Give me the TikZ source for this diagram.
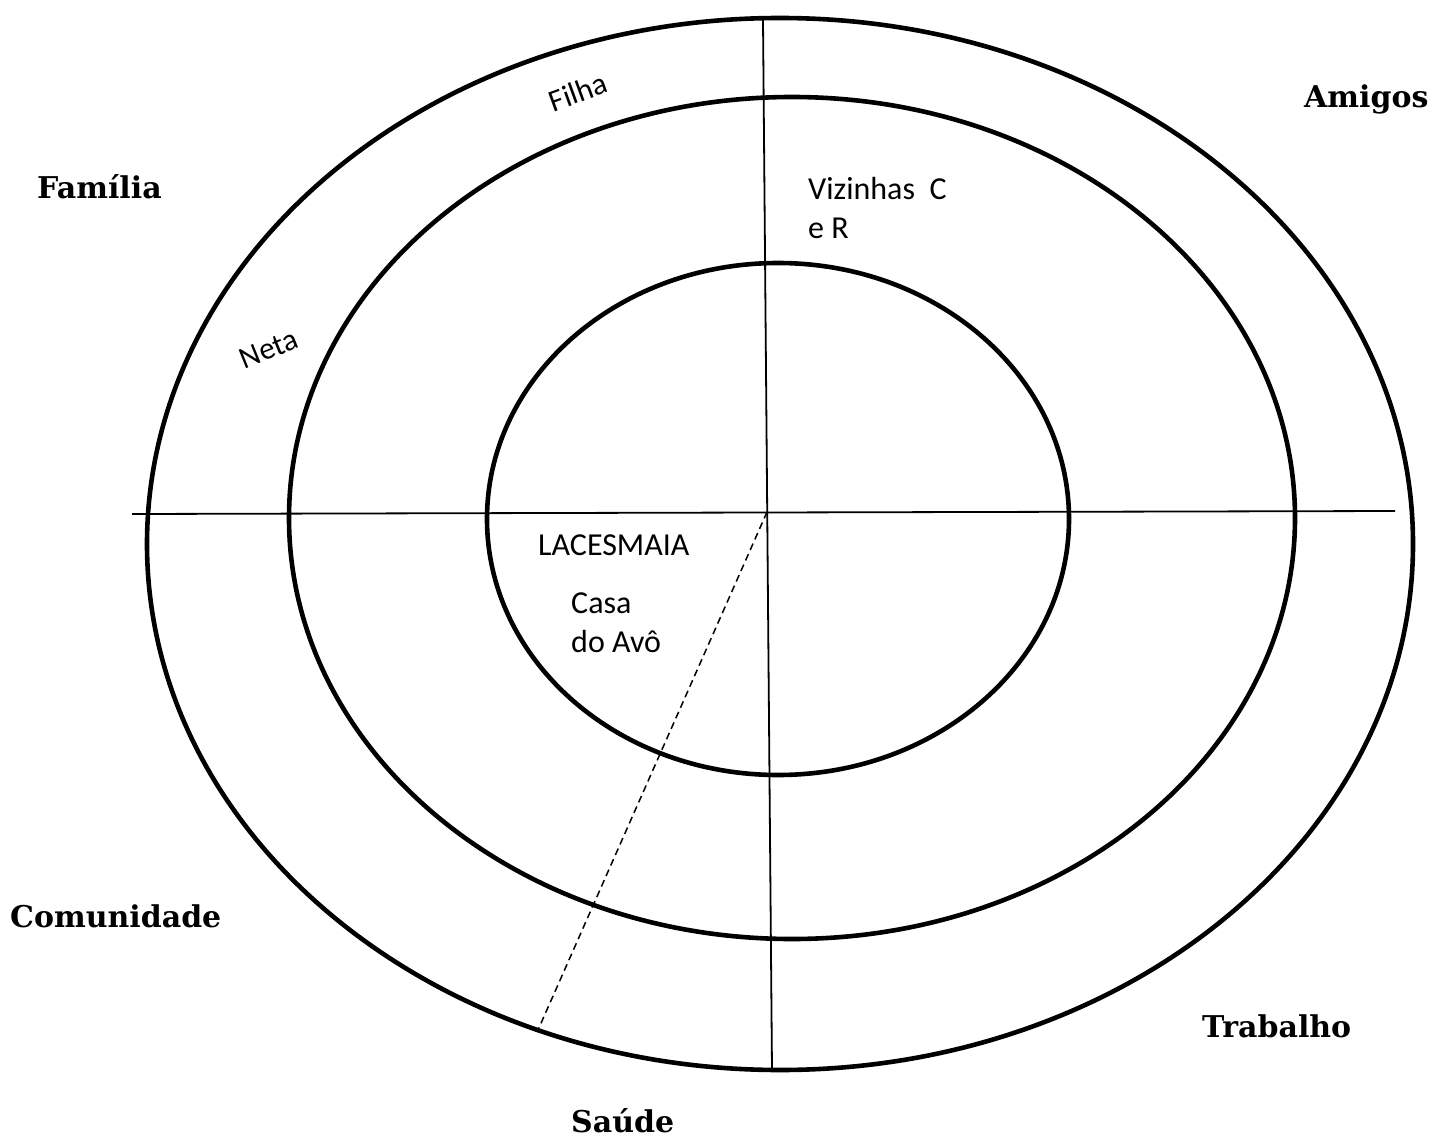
\documentclass[tikz,border=0pt]{standalone}
\usepackage{fontspec}
\setmainfont{Carlito}
\newfontfamily\lblfont{DejaVu Serif}
\begin{document}
\begin{tikzpicture}[x=1pt,y=-1pt,
  ring/.style={line width=4.6pt},
  axisline/.style={line width=1.8pt},
  dashline/.style={line width=1.5pt, dash pattern=on 7pt off 4.5pt},
  sector/.style={font=\lblfont\bfseries\fontsize{30}{34}\selectfont, inner sep=0, anchor=base west},
  note/.style={font=\fontsize{32}{38}\selectfont, inner sep=0, anchor=base west},
  rnote/.style={font=\fontsize{31}{36}\selectfont, inner sep=0},
]
\useasboundingbox (0,0) rectangle (1446,1137);
% rings
\draw[ring] (780,544) ellipse [x radius=633, y radius=526];
\draw[ring] (792,518) ellipse [x radius=503, y radius=421];
\draw[ring] (778,519) ellipse [x radius=291, y radius=256];
% axes
\coordinate (vt) at (763,20);
\coordinate (vb) at (772,1070);
\coordinate (hl) at (132,514);
\coordinate (hr) at (1395,511);
\coordinate (dc) at (767,512);
\coordinate (de) at (538,1030);
\coordinate (s1) at (765,263);
\coordinate (s2) at (790,263);
\draw[axisline] (vt) -- (vb);
\draw[axisline] (hl) -- (hr);
\draw[dashline] (dc) -- (de);
\draw[line width=3.5pt] (s1) -- (s2);
% sector labels
\node[sector] (familia) at (37,198) {Família};
\node[sector] (amigos) at (1304,108) {Amigos};
\node[sector] (comunidade) at (10,927) {Comunidade};
\node[sector] (trabalho) at (1202,1037) {Trabalho};
\node[sector] (saude) at (571,1132) {Saúde};
% notes
\node[rnote, rotate=20] (filha) at (578,92) {Filha};
\node[rnote, rotate=22] (neta) at (269,349) {Neta};
\node[note] (viz1) at (808,199) {Vizinhas\ \ C};
\node[note] (viz2) at (808,238) {e R};
\node[note] (lacesmaia) at (538,555) {LACESMAIA};
\node[note] (casa1) at (571,613) {Casa};
\node[note] (casa2) at (571,652) {do Avô};
\end{tikzpicture}
\end{document}
